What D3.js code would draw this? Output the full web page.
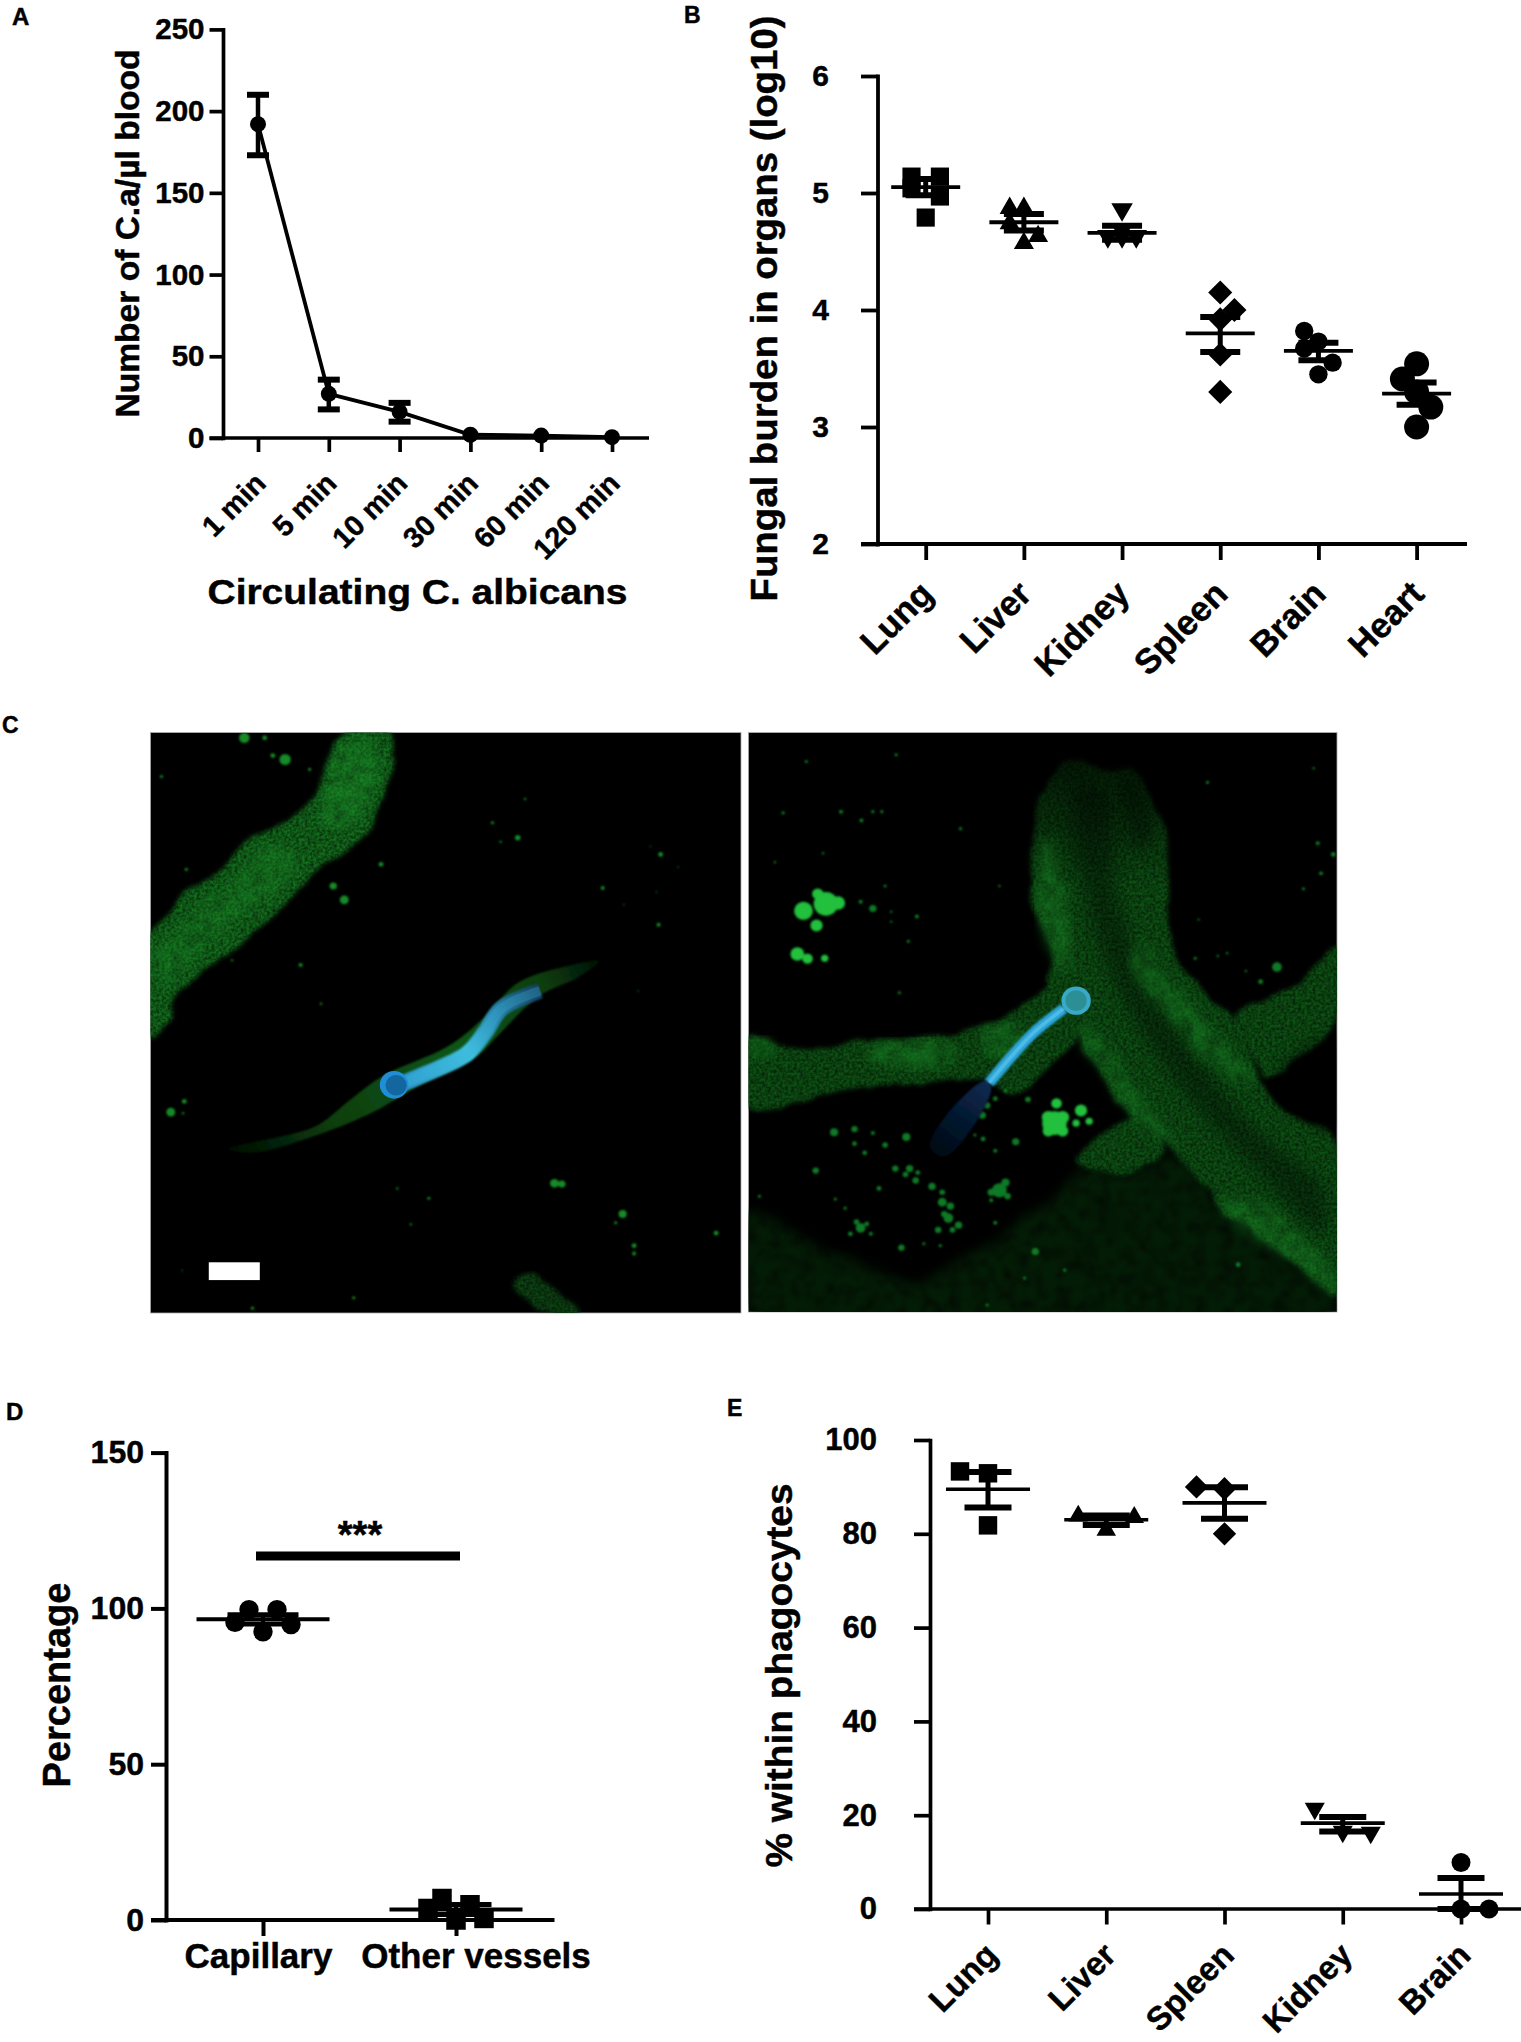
<!DOCTYPE html>
<html><head><meta charset="utf-8">
<script src="https://cdn.jsdelivr.net/npm/d3@7/dist/d3.min.js"></script>
<style>html,body{margin:0;background:#fff}svg{display:block}text{font-family:"Liberation Sans",Arial,sans-serif;font-weight:bold;fill:#000;stroke:#000;stroke-width:.45px}</style>
</head><body><div id="c"></div>
<script>
// ---------- Panel A
const aCats=["1 min","5 min","10 min","30 min","60 min","120 min"];
const aMean=[192,27,16,2,1.5,0.5];
const aHigh=[210,35.7,21.5,2.5,2,0.7];
const aLow=[173,17.5,10,1.5,1,0.3];
const aTicks=[0,50,100,150,200,250];
// ---------- Panel B (value, swarm column)
const bCats=["Lung","Liver","Kidney","Spleen","Brain","Heart"];
const bVals=[[5.14,5.14,5.04,4.97,4.79],[4.87,4.87,4.74,4.63,4.57],[4.86,4.63,4.63,4.63,4.68],[4.15,4.0,3.92,3.62,3.30],[3.82,3.73,3.67,3.55,3.45],[3.54,3.41,3.3,3.17,3.0]];
const bCols=[[-1,1,-1,1,0],[-1,0,-1,1,0],[0,-1,0,1,0],[0,1,0,0,0],[-1,0,-1,1,0],[0,-1,0,1,0]];
const bMean=[5.05,4.75,4.66,3.80,3.65,3.285];
const bHigh=[5.12,4.82,4.72,3.94,3.72,3.38];
const bLow=[4.98,4.68,4.6,3.64,3.57,3.19];
const bTicks=[2,3,4,5,6];
// ---------- Panel D
const dCats=["Capillary","Other vessels"];
const dVals=[[95.5,99.6,99.6,94.8,92.5],[3.7,6.9,0,4.9,0.5]];
const dCols=[[-2,-1,1,2,0],[-2,-1,0,1,2]];
const dMean=[96.5,3.4];
const dHigh=[98,5];
const dLow=[95,1.8];
const dTicks=[0,50,100,150];
// ---------- Panel E
const eCats=["Lung","Liver","Spleen","Kidney","Brain"];
const eVals=[[93.3,92.9,81.8],[83.8,80.8,83.5],[90,89.6,80],[21.4,16.5,16.3],[9.9,0,0]];
const eCols=[[-1,0,0],[-1,0,1],[-1,0,0],[-1,0,1],[0,0,1]];
const eMean=[89.5,83,86.6,18.3,3.2];
const eHigh=[93.2,83.9,89.9,19.6,6.6];
const eLow=[85.6,81.9,83.2,16.5,0];
const eTicks=[0,20,40,60,80,100];
// ---------- Panel C micrographs (outlines in image pixels)
const leftVessel=[[50,545],[95,490],[120,455],[170,415],[230,375],[270,320],[330,280],[385,255],[440,205],[460,170],[490,90],[520,36],[640,36],[640,140],[615,210],[585,285],[530,325],[450,395],[390,455],[310,535],[240,595],[160,655],[105,710],[98,760],[50,805]];
const leftBright=[[60,600],[140,500],[240,420],[340,310],[420,340],[380,410],[280,500],[180,580],[90,680]];
const leftBright2=[[470,190],[520,60],[610,60],[600,180],[530,280],[470,260]];
const leftThin=[[240,1085],[450,1030],[540,960],[620,900],[780,825],[870,750],[950,665],[1060,625],[1150,610],[1100,650],[1000,700],[900,800],[850,850],[700,930],[600,990],[460,1050],[300,1095]];
const leftLower=[[940,1420],[985,1400],[1050,1450],[1105,1500],[1010,1500]];
const leftDots=[[100,992,11],[133,965,6],[130,995,3],[1040,1172,11],[1058,1174,9],[1207,1250,10],[1190,1272,4],[1235,1330,6],[1235,1350,5],[1436,1298,6],[300,1488,4],[548,1462,4],[128,1393,2],[655,1185,3],[732,1210,4],[688,1276,3],[280,45,13],[330,45,6],[380,100,14],[350,90,6],[77,143,4],[138,378,4],[440,125,4],[498,420,9],[525,455,11],[418,620,5],[250,608,3],[468,718,3],[888,260,4],[950,298,7],[908,308,3],[1300,340,6],[1158,425,5],[1295,518,5],[1343,372,2],[1275,320,2],[1290,435,2],[1210,467,2],[1245,685,2],[968,200,3],[615,365,6]];
const rightVessels=[[[790,130],[830,100],[920,130],[990,130],[1040,220],[1070,300],[1075,480],[1090,590],[1160,680],[1240,760],[1300,900],[1350,980],[1480,1060],[1488,1460],[1380,1370],[1210,1240],[1100,1100],[950,960],[850,790],[780,680],[790,600],[745,470],[740,300]],
[[1240,750],[1400,660],[1488,570],[1488,760],[1320,900],[1300,880]],
[[46,800],[100,810],[150,830],[340,815],[600,780],[730,720],[790,680],[850,790],[780,880],[700,945],[620,910],[500,915],[300,930],[46,980]],
[[850,1120],[950,1010],[1000,1000],[1060,1090],[1000,1140],[900,1145]]];
const rightDark=[[46,1240],[150,1300],[300,1370],[450,1420],[600,1340],[800,1200],[860,1140],[1000,1140],[1100,1100],[1210,1250],[1400,1400],[1488,1470],[1488,1498],[46,1498]];
const rightBright=[[[1200,1210],[1330,1240],[1400,1300],[1480,1400],[1485,1460],[1380,1370],[1250,1290]],[[620,780],[700,770],[720,830],[640,850]],[[850,770],[900,800],[1000,950],[1100,1090],[1060,1070],[950,950]],[[770,300],[790,330],[830,500],[830,640],[790,600],[750,450]],[[340,830],[520,810],[560,840],[500,880],[360,870]],[[48,805],[105,810],[105,850],[70,860],[48,850]],[[1000,560],[1100,680],[1240,860],[1290,900],[1240,920],[1100,780],[990,640]]];
const rightShade=[[[850,170],[930,200],[940,400],[1010,620],[1150,860],[1300,1050],[1450,1180],[1450,1300],[1300,1150],[1120,950],[950,680],[860,400]],[[1350,880],[1480,800],[1480,1040],[1350,960]],[[960,140],[1000,160],[1030,300],[1000,330]]];
const rightBlobs=[[180,483,23],[235,465,30],[265,463,17],[215,440,14],[212,520,15],[165,592,17],[190,604,13],[232,603,9],[795,1020,30],[780,1005,16],[815,1005,16],[780,1040,14],[815,1040,14],[800,970,13],[860,988,15],[880,1015,9],[848,1020,9]];
const rightDots=[[272,232,5],[322,254,5],[350,232,4],[372,232,4],[407,88,4],[187,105,4],[110,360,3],[228,337,3],[130,235,4],[320,460,5],[350,477,9],[380,420,4],[395,485,3],[395,510,3],[437,560,4],[458,497,5],[415,690,4],[565,275,4],[660,420,3],[1448,388,5],[1405,427,4],[1440,312,5],[1478,340,6],[1430,122,3],[1170,158,4],[1340,625,12],[1300,662,6],[1140,603,4],[1218,590,3],[1195,597,3],[1264,635,3],[1148,505,3],[1245,1378,6],[255,1043,10],[305,1035,8],[350,1045,5],[380,1075,7],[330,1095,6],[305,1072,6],[432,1055,10],[700,1067,9],[618,1000,9],[630,975,8],[650,958,6],[675,938,5],[620,1060,6],[650,1090,5],[600,1050,4],[730,960,7],[405,1135,8],[440,1135,9],[455,1165,8],[365,1185,6],[495,1180,9],[520,1220,11],[535,1260,12],[510,1290,8],[560,1278,9],[515,1330,4],[420,1335,8],[475,1325,4],[660,1190,18],[640,1215,5],[320,1285,12],[295,1300,6],[345,1300,5],[282,1235,4],[258,1212,4],[72,1205,4],[210,1140,8],[748,1345,9],[820,1392,4],[722,1412,4],[650,1272,5],[630,1480,4],[540,1230,9],[520,1195,7],[525,1250,8],[545,1290,7],[430,1150,7],[460,1145,6],[675,1170,10],[640,1195,9],[680,1205,8],[310,1270,7],[335,1275,6]];
const hyphaLeft=[[655,925],[720,897],[825,845],[870,790],[910,730],[1005,685]];
const sporeLeft=[[647,923,35]];
const hyphaRight=[[818,730],[745,790],[682,860],[635,918]];
const tailRight=[[625,913],[640,930],[595,1030],[525,1105],[490,1080],[530,1000]];
const sporeRight=[[848,710,36]];

const W=1521,H=2042;
const svg=d3.select("#c").append("svg").attr("width",W).attr("height",H).attr("viewBox",`0 0 ${W} ${H}`);
svg.append("rect").attr("width",W).attr("height",H).attr("fill","#fff");

// ---- filters
const defs=svg.append("defs");
function mkFilter(id,freq,disp,blur,gain,off,sb){
  const f=defs.append("filter").attr("id",id).attr("x","-5%").attr("y","-5%").attr("width","110%").attr("height","110%").attr("color-interpolation-filters","sRGB");
  f.append("feTurbulence").attr("type","fractalNoise").attr("baseFrequency",0.012).attr("numOctaves",4).attr("seed",7).attr("result","w");
  f.append("feDisplacementMap").attr("in","SourceGraphic").attr("in2","w").attr("scale",disp).attr("xChannelSelector","R").attr("yChannelSelector","G").attr("result","d");
  f.append("feGaussianBlur").attr("in","d").attr("stdDeviation",blur).attr("result","b");
  f.append("feTurbulence").attr("type","fractalNoise").attr("baseFrequency",freq).attr("numOctaves",2).attr("seed",4).attr("result","n");
  f.append("feColorMatrix").attr("in","n").attr("type","matrix").attr("values",`0 0 0 0 0  0 0 0 0 0  0 0 0 0 0  ${gain} 0 0 0 ${off}`).attr("result","s0");
  f.append("feGaussianBlur").attr("in","s0").attr("stdDeviation",sb).attr("result","s");
  f.append("feComposite").attr("in","s").attr("in2","b").attr("operator","atop");
}
mkFilter("grain",0.14,30,5,1.1,-0.3,1.2);
mkFilter("soft",0.03,30,14,1.2,-0.45,4);
defs.append("filter").attr("id","glow").append("feGaussianBlur").attr("stdDeviation",2.2);
defs.append("filter").attr("id","glow2").append("feGaussianBlur").attr("stdDeviation",18);
const gL=defs.append("linearGradient").attr("id","hl").attr("gradientUnits","userSpaceOnUse").attr("x1",650).attr("y1",925).attr("x2",1010).attr("y2",680);
[[0,"#2b93cc"],[0.45,"#3fc0e0"],[0.7,"#2a86b0"],[1,"#123a5c"]].forEach(d=>gL.append("stop").attr("offset",d[0]).attr("stop-color",d[1]));
const gT=defs.append("linearGradient").attr("id","thin").attr("gradientUnits","userSpaceOnUse").attr("x1",250).attr("y1",1090).attr("x2",1150).attr("y2",610);
[[0,"#020e02"],[0.25,"#0a3f10"],[0.6,"#0f5516"],[0.85,"#0a3f10"],[1,"#031204"]].forEach(d=>gT.append("stop").attr("offset",d[0]).attr("stop-color",d[1]));
const gR=defs.append("linearGradient").attr("id","tail").attr("gradientUnits","userSpaceOnUse").attr("x1",635).attr("y1",920).attr("x2",500).attr("y2",1100);
[[0,"#0a2a50"],[1,"#010710"]].forEach(d=>gR.append("stop").attr("offset",d[0]).attr("stop-color",d[1]));
const gV=defs.append("linearGradient").attr("id","vert").attr("gradientUnits","userSpaceOnUse").attr("x1",0).attr("y1",100).attr("x2",0).attr("y2",420);
[[0,"#031a05"],[1,"#0c5213"]].forEach(d=>gV.append("stop").attr("offset",d[0]).attr("stop-color",d[1]));

// ---- micrographs
const closed=d3.line().curve(d3.curveCatmullRomClosed.alpha(0.5));
const open=d3.line().curve(d3.curveCatmullRom.alpha(0.5));
function micro(id,x0,x1,y0,y1,ox,draw){
  defs.append("clipPath").attr("id",id).append("rect").attr("x",x0).attr("y",y0).attr("width",x1-x0).attr("height",y1-y0);
  svg.append("rect").attr("x",x0).attr("y",y0).attr("width",x1-x0).attr("height",y1-y0).attr("fill","#000").attr("stroke","#aaa").attr("stroke-width",0.8);
  const g=svg.append("g").attr("clip-path",`url(#${id})`).append("g").attr("transform",`translate(${ox},720) scale(${1/2.45},${1/2.53})`);
  draw(g);
}
const dots=(g,a,c,f)=>g.append("g").attr("filter",f||null).selectAll("circle").data(a).join("circle").attr("cx",d=>d[0]).attr("cy",d=>d[1]).attr("r",d=>d[2]).attr("fill",c);
micro("cl",150.4,741,732.6,1313,130,g=>{
  g.append("path").attr("d",closed(leftVessel)).attr("fill","#126e1c").attr("filter","url(#grain)");
  g.append("path").attr("d",closed(leftBright)).attr("fill","#1b8f28").attr("opacity",.4).attr("filter","url(#soft)");
  g.append("path").attr("d",closed(leftBright2)).attr("fill","#1d9a2c").attr("opacity",.45).attr("filter","url(#soft)");
  g.append("path").attr("d",closed(leftThin)).attr("fill","url(#thin)").attr("filter","url(#glow)");
  g.append("path").attr("d",closed(leftLower)).attr("fill","#0c4412").attr("filter","url(#grain)");
  dots(g,leftDots,"#158a28","url(#glow)");
  g.append("path").attr("d",open(hyphaLeft)).attr("fill","none").attr("stroke","url(#hl)").attr("stroke-width",40).attr("stroke-linecap","butt").attr("filter","url(#glow)");
  g.append("path").attr("d",open(hyphaLeft)).attr("fill","none").attr("stroke","#3bb6d8").attr("stroke-opacity",.3).attr("stroke-width",24);
  dots(g,sporeLeft,"#1f8ed6");
  g.append("circle").attr("cx",652).attr("cy",924).attr("r",26).attr("fill","#14669f");
  g.append("rect").attr("x",193).attr("y",1372).attr("width",125).attr("height",45).attr("fill","#fff");
});
micro("cr",748.4,1337,732.6,1312,730,g=>{
  g.append("path").attr("d",closed(rightDark)).attr("fill","#031c05").attr("filter","url(#soft)");
  rightVessels.forEach(v=>g.append("path").attr("d",closed(v)).attr("fill","url(#vert)").attr("filter","url(#grain)"));
  rightShade.forEach(v=>g.append("path").attr("d",closed(v)).attr("fill","#000").attr("opacity",.35).attr("filter","url(#glow2)"));
  rightBright.forEach(v=>g.append("path").attr("d",closed(v)).attr("fill","#1a8f28").attr("opacity",.45).attr("filter","url(#soft)"));
  dots(g,rightDots,"#117a27","url(#glow)");
  dots(g,rightBlobs,"#22c03c","url(#glow)");
  g.append("path").attr("d",closed(tailRight)).attr("fill","url(#tail)").attr("filter","url(#glow)");
  g.append("path").attr("d",open(hyphaRight)).attr("fill","none").attr("stroke","#2da6dc").attr("stroke-width",27).attr("filter","url(#glow)");
  g.append("path").attr("d",open(hyphaRight)).attr("fill","none").attr("stroke","#6ad0ee").attr("stroke-opacity",.5).attr("stroke-width",9);
  dots(g,sporeRight,"#38a9c6");
  g.append("circle").attr("cx",848).attr("cy",710).attr("r",26).attr("fill","#2c8f95");
});

// ---- helpers
function yAxis(scale,ticks,x,size,pad,fs,lw){
  const g=svg.append("g").attr("transform",`translate(${x},0)`).call(d3.axisLeft(scale).tickValues(ticks).tickFormat(d3.format("d")).tickSize(size).tickSizeOuter(0).tickPadding(pad));
  g.selectAll("path,line").attr("stroke","#000").attr("stroke-width",lw);
  g.selectAll("text").attr("font-size",fs).attr("font-family",'"Liberation Sans"').attr("font-weight","bold");
  g.select(".domain").attr("stroke-linecap","square");
  return g;
}
function xAxis(scale,y,x0,x1,size,fs,lw,lab){
  const g=svg.append("g").attr("transform",`translate(0,${y})`).call(d3.axisBottom(scale).tickSize(size).tickSizeOuter(0));
  g.select(".domain").remove();
  g.selectAll("line").attr("stroke","#000").attr("stroke-width",lw);
  g.append("line").attr("x1",x0).attr("x2",x1).attr("stroke","#000").attr("stroke-width",lw);
  const t=g.selectAll("text").attr("font-size",fs).attr("font-family",'"Liberation Sans"').attr("font-weight","bold");
  if(lab) t.attr("y",null).attr("dy",null).attr("text-anchor","end").attr("transform",`translate(${lab[0]},${lab[1]}) rotate(-45)`);
  return g;
}
function title(txt,x,y,fs,len,rot){
  svg.append("text").attr("text-anchor","middle").attr("font-size",fs).attr("textLength",len).attr("lengthAdjust","spacingAndGlyphs")
    .attr("transform",`translate(${x},${y})`+(rot?" rotate(-90)":"")).text(txt);
}
function panelLetter(t,x,y,fs){svg.append("text").attr("x",x).attr("y",y).attr("font-size",fs).attr("font-family",'"Open Sans","Liberation Sans"').text(t);}
function marker(g,kind,s,x,y){
  if(kind==="circle"){g.append("circle").attr("cx",x).attr("cy",y).attr("r",s);return;}
  const type=kind==="tri"||kind==="down"?d3.symbolTriangle:d3.symbolSquare;
  const rot=kind==="down"?180:kind==="diamond"?45:0;
  g.append("path").attr("d",d3.symbol().type(type).size(s)()).attr("transform",`translate(${x},${y}) rotate(${rot})`);
}
function errs(g,x,yT,yM,yB,meanW,capW,meanT,capT,stem){
  const l=(x1,x2,y1,y2,w)=>g.append("line").attr("x1",x1).attr("x2",x2).attr("y1",y1).attr("y2",y2).attr("stroke","#000").attr("stroke-width",w);
  l(x,x,yT,yB,stem);
  l(x-capW/2,x+capW/2,yT,yT,capT);
  l(x-capW/2,x+capW/2,yB,yB,capT);
  l(x-meanW/2,x+meanW/2,yM,yM,meanT);
}

// ---- Panel A
{
  const y=d3.scaleLinear().domain([0,250]).range([438,29.4]);
  const x=d3.scalePoint().domain(aCats).range([258,612]);
  yAxis(y,aTicks,223,13.5,5,29.5,3.7);
  xAxis(x,y(0),209.5,649,14,29,3.7,[9,47]);
  const g=svg.append("g");
  g.append("path").attr("fill","none").attr("stroke","#000").attr("stroke-width",3.8)
    .attr("d",d3.line().x((d,i)=>x(aCats[i])).y(d=>y(d))(aMean));
  aCats.forEach((c,i)=>{
    if(i<3) errs(g,x(c),y(aHigh[i]),y(aMean[i]),y(aLow[i]),0,22,0,6,4.5);
    marker(g,"circle",8,x(c),y(aMean[i]));
  });
  title("Number of C.a/µl blood",139,233.5,34,368,true);
  title("Circulating C. albicans",417.5,604,35,420,false);
  panelLetter("A",12,24.5,24);
}
// ---- Panel B
{
  const y=d3.scaleLinear().domain([2,6]).range([544,76]);
  const x=d3.scalePoint().domain(bCats).range([925.7,1416.6]);
  yAxis(y,bTicks,877.5,16.5,32,30,3.8);
  xAxis(x,y(2),861,1467,16,35,3.8,[9,52]);
  const kinds=[["square",330],["tri",175],["down",200],["diamond",290],["circle",9.2],["circle",12.5]];
  const g=svg.append("g");
  bCats.forEach((c,i)=>{
    bVals[i].forEach((v,j)=>marker(g,kinds[i][0],kinds[i][1],x(c)+bCols[i][j]*14.2,y(v)));
    errs(g,x(c),y(bHigh[i]),y(bMean[i]),y(bLow[i]),69,40,3.8,6,5);
  });
  title("Fungal burden in organs (log10)",777,308.5,36,586,true);
  panelLetter("B",684,23,23);
}
// ---- Panel C letter
panelLetter("C",2,733,23);
// ---- Panel D
{
  const y=d3.scaleLinear().domain([0,150]).range([1920,1452.6]);
  const x=d3.scalePoint().domain(dCats).range([263,456]);
  yAxis(y,dTicks,166,15,7,32,4);
  const ax=xAxis(x,y(0),151,554.5,16,35,4,null);
  ax.selectAll("text").attr("y",null).attr("dy",null).attr("text-anchor","middle")
    .attr("transform",(d,i)=>`translate(${[-5,19.5][i]},48)`);
  const g=svg.append("g");
  const kinds=[["circle",9.7],["square",380]];
  dCats.forEach((c,i)=>{
    dVals[i].forEach((v,j)=>marker(g,kinds[i][0],kinds[i][1],x(c)+dCols[i][j]*14,y(v)));
    errs(g,x(c),y(dHigh[i]),y(dMean[i]),y(dLow[i]),133,71,4,5,4);
  });
  g.append("line").attr("x1",256).attr("x2",460).attr("y1",1556).attr("y2",1556).attr("stroke","#000").attr("stroke-width",9);
  svg.append("text").attr("x",360).attr("y",1548).attr("text-anchor","middle").attr("font-size",38).attr("font-weight","normal").attr("stroke-width",0).text("***");
  title("Percentage",70,1685,38,205,true);
  panelLetter("D",6,1420,24);
}
// ---- Panel E
{
  const y=d3.scaleLinear().domain([0,100]).range([1909,1440]);
  const x=d3.scalePoint().domain(eCats).range([988,1461]);
  yAxis(y,eTicks,930,16,37,31,3.7);
  xAxis(x,y(0),914,1521,15.5,33,3.7,[11,48]);
  const kinds=[["square",340],["tri",165],["diamond",272],["down",175],["circle",9.5]];
  const g=svg.append("g");
  eCats.forEach((c,i)=>{
    eVals[i].forEach((v,j)=>marker(g,kinds[i][0],kinds[i][1],x(c)+eCols[i][j]*28,y(v)));
    errs(g,x(c),y(eHigh[i]),y(eMean[i]),y(eLow[i]),84,47,3.6,6,5);
  });
  title("% within phagocytes",792,1675.5,36,384,true);
  panelLetter("E",727,1416,23);
}
</script></body></html>
